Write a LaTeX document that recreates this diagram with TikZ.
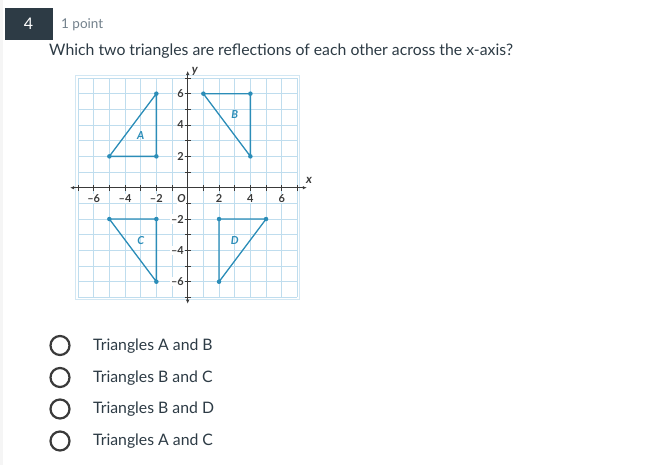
\documentclass[tikz,border=0pt]{standalone}
\usepackage{fontspec}
\setmainfont{Lato}
\usetikzlibrary{arrows.meta}

\definecolor{canvasdark}{HTML}{2D3B45}
\definecolor{pointgray}{HTML}{73818C}
\definecolor{gridblue}{HTML}{BFDDEE}
\definecolor{triblue}{HTML}{2B8DB8}
\definecolor{ticktext}{HTML}{3A3A3A}

\tikzset{
  gridline/.style={gridblue, line width=0.6pt},
  axisline/.style={ticktext, line width=0.7pt, {Latex[length=4pt,width=3.5pt]}-{Latex[length=4pt,width=3.5pt]}},
  tickmark/.style={ticktext, line width=0.6pt},
  ticklabel/.style={fill=white, inner sep=0.6pt, text=ticktext, font=\fontsize{11}{11}\selectfont\bfseries},
  triside/.style={triblue, line width=1.3pt, line join=round},
  tridot/.style={circle, fill=triblue, inner sep=1.6pt},
  trilabel/.style={text=triblue, font=\fontsize{11}{11}\selectfont\bfseries\itshape},
  optcircle/.style={draw=ticktext, line width=2.2pt, circle, minimum size=19pt, inner sep=0pt},
  opttext/.style={anchor=west, text=canvasdark, font=\fontsize{15.8}{17}\selectfont},
}

\begin{document}
\begin{tikzpicture}[x=1pt, y=-1pt]
  \useasboundingbox[fill=white] (0,0) rectangle (671,465);
  \fill[black!4] (0,0) rectangle (3,465);

  % heading
  \node[fill=canvasdark, minimum width=48pt, minimum height=32pt, inner sep=0pt] (qbox) at (28.5,24) {};
  \node[text=white, font=\fontsize{16}{16}\selectfont] (qnum) at (qbox.center) {4};
  \node[anchor=west, text=pointgray, font=\fontsize{13.5}{13.5}\selectfont, inner sep=0pt] (qpts) at (61,25) {1 point};
  \node[anchor=west, text=canvasdark, font=\fontsize{15.8}{17}\selectfont, inner sep=0pt] (qtext) at (49,51.5)
    {Which two triangles are reflections of each other across the x-axis?};

  % coordinate plane
  \begin{scope}[shift={(187.7,187.7)}, x=15.67pt, y=15.67pt]
    \foreach \k in {-7,...,7} {
      \draw[gridline] (\k,-7) -- (\k,7);
      \draw[gridline] (-7,\k) -- (7,\k);
    }
    \draw[gridline, gridblue!70] (-7.15,-7.15) rectangle (7.15,7.15);

    \coordinate (xl) at (-7.5,0);
    \coordinate (xr) at (7.6,0);
    \coordinate (yb) at (0,-7.4);
    \coordinate (yt) at (0,7.45);
    \draw[axisline] (xl) -- (xr);
    \draw[axisline] (yb) -- (yt);
    \foreach \k in {-7,...,-1,1,2,...,7} {
      \draw[tickmark] (\k,-0.18) -- (\k,0.18);
      \draw[tickmark] (-0.18,\k) -- (0.18,\k);
    }
    \node[text=ticktext, font=\fontsize{12}{12}\selectfont\bfseries\itshape] (xname) at (7.75,0.45) {x};
    \node[text=ticktext, font=\fontsize{12}{12}\selectfont\bfseries\itshape] (yname) at (0.45,7.4) {y};

    \foreach \k/\t in {-6/{--6}, -4/{--4}, -2/{--2}, 2/2, 4/4, 6/6} {
      \node[ticklabel, anchor=north] at (\k,-0.36) {\t};
      \node[ticklabel, anchor=east] at (-0.2,\k) {\t};
    }
    \node[ticklabel, font=\fontsize{11}{11}\selectfont\bfseries\itshape] (orig) at (-0.4,-0.72) {O};

    % triangle A
    \coordinate (a1) at (-5,2);
    \coordinate (a2) at (-2,2);
    \coordinate (a3) at (-2,6);
    % triangle B
    \coordinate (b1) at (1,6);
    \coordinate (b2) at (4,6);
    \coordinate (b3) at (4,2);
    % triangle C
    \coordinate (c1) at (-5,-2);
    \coordinate (c2) at (-2,-2);
    \coordinate (c3) at (-2,-6);
    % triangle D
    \coordinate (d1) at (2,-2);
    \coordinate (d2) at (5,-2);
    \coordinate (d3) at (2,-6);

    \draw[triside] (a1) -- (a2) -- (a3) -- cycle;
    \draw[triside] (b1) -- (b2) -- (b3) -- cycle;
    \draw[triside] (c1) -- (c2) -- (c3) -- cycle;
    \draw[triside] (d1) -- (d2) -- (d3) -- cycle;

    \foreach \v in {a1,a2,a3,b1,b2,b3,c1,c2,c3,d1,d2,d3}
      \node[tridot] at (\v) {};

    \node[trilabel] (tA) at (-3,3.3) {A};
    \node[trilabel] (tB) at (3,4.65) {B};
    \node[trilabel] (tC) at (-3,-3.35) {C};
    \node[trilabel] (tD) at (3,-3.35) {D};
  \end{scope}

  % answer options
  \node[optcircle] (o1) at (60,345.5) {};
  \node[optcircle] (o2) at (60,377.5) {};
  \node[optcircle] (o3) at (60,409) {};
  \node[optcircle] (o4) at (60,441) {};
  \node[opttext, inner sep=0pt] (t1) at (93,346) {Triangles A and B};
  \node[opttext, inner sep=0pt] (t2) at (93,378) {Triangles B and C};
  \node[opttext, inner sep=0pt] (t3) at (93,409.5) {Triangles B and D};
  \node[opttext, inner sep=0pt] (t4) at (93,441) {Triangles A and C};
\end{tikzpicture}
\end{document}
